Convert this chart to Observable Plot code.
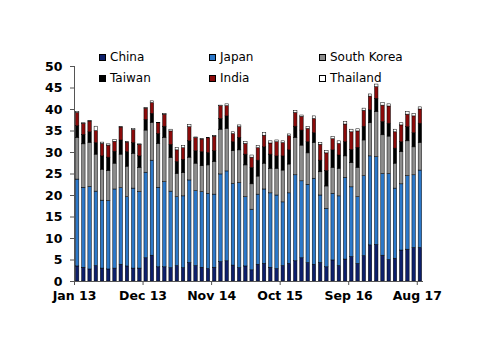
<!DOCTYPE html>
<html>
<head>
<meta charset="utf-8">
<script src="https://cdn.jsdelivr.net/npm/d3@7"></script>
<script src="https://cdn.jsdelivr.net/npm/@observablehq/plot@0.6"></script>
<style>
  html, body { margin: 0; padding: 0; background: #fff; }
  #wrap { position: relative; width: 500px; height: 354px; font-family: "DejaVu Sans", sans-serif; }
  .leg { position: absolute; font-size: 12px; color: #000; line-height: 14px; white-space: nowrap; }
  .leg span.sw { display: inline-block; width: 7px; height: 7px; border: 0.8px solid #000; box-sizing: border-box; margin-right: 4px; vertical-align: 0px; }
</style>
</head>
<body>
<div id="wrap"></div>
<script>
const months = ["Jan 13","Feb 13","Mar 13","Apr 13","May 13","Jun 13","Jul 13","Aug 13","Sep 13","Oct 13","Nov 13","Dec 13",
  "Jan 14","Feb 14","Mar 14","Apr 14","May 14","Jun 14","Jul 14","Aug 14","Sep 14","Oct 14","Nov 14","Dec 14",
  "Jan 15","Feb 15","Mar 15","Apr 15","May 15","Jun 15","Jul 15","Aug 15","Sep 15","Oct 15","Nov 15","Dec 15",
  "Jan 16","Feb 16","Mar 16","Apr 16","May 16","Jun 16","Jul 16","Aug 16","Sep 16","Oct 16","Nov 16","Dec 16",
  "Jan 17","Feb 17","Mar 17","Apr 17","May 17","Jun 17","Jul 17","Aug 17"];
const tickMonths = ["Jan 13","Dec 13","Nov 14","Oct 15","Sep 16","Aug 17"];
const seriesNames = ["China","Japan","South Korea","Taiwan","India","Thailand"];
const seriesColors = ["#0d1f6b","#2c78c9","#8c8c8c","#000000","#8b0a0a","#ffffff"];

const china    = [3.5,3.2,2.8,3.6,3.0,2.8,3.0,3.9,3.5,3.0,3.0,5.4, 6.0,3.3,3.3,3.1,3.6,3.1,4.3,3.6,3.2,2.9,3.2,4.5, 4.7,3.7,3.1,3.5,2.6,3.9,4.1,3.2,2.9,3.6,4.1,4.7, 5.4,4.3,3.9,4.3,3.3,4.9,3.6,5.1,5.7,4.1,5.9,8.4, 8.5,6.0,5.0,5.3,7.2,7.4,7.8,7.8];
const japan    = [20.2,18.6,19.2,17.3,15.8,15.9,18.4,17.8,16.1,18.6,17.8,19.9, 22.1,18.5,19.8,17.8,16.0,16.7,19.2,17.4,17.6,17.5,17.0,20.4, 20.9,19.0,19.8,16.1,14.1,16.3,17.3,17.3,17.1,14.8,16.4,20.0, 17.9,18.2,20.0,15.7,13.6,15.5,16.2,19.0,16.2,15.5,18.6,20.7, 20.4,19.0,20.0,16.3,15.4,17.1,16.9,18.0];
const skorea   = [9.7,10.1,10.2,8.6,7.2,7.0,6.0,7.8,7.1,8.1,5.6,9.8, 8.8,10.2,10.3,7.8,5.4,5.4,5.3,6.4,6.0,6.6,7.6,10.4, 9.9,7.6,7.6,7.4,5.9,4.2,6.0,5.7,6.2,7.4,6.7,8.7, 8.3,7.3,8.3,5.4,5.2,6.0,6.4,5.0,5.6,6.8,8.3,7.7, 10.5,9.0,8.7,5.8,7.5,8.1,6.5,6.4];
const taiwan   = [2.7,2.2,2.5,2.7,3.1,3.1,2.8,3.3,3.4,2.5,2.7,2.5, 2.1,2.3,2.6,3.1,2.8,3.1,3.8,2.9,3.3,2.9,2.5,2.5, 2.9,2.1,2.9,2.5,3.8,3.7,3.8,3.3,2.9,3.3,3.3,2.6, 3.5,2.6,2.3,2.7,3.6,4.1,3.1,3.3,3.1,4.7,3.2,3.0, 3.1,3.1,3.0,3.5,2.3,3.3,3.3,4.5];
const india    = [3.1,2.6,2.5,2.8,2.9,2.8,2.3,3.0,2.2,3.0,2.7,2.6, 2.5,2.5,2.8,3.1,2.7,2.7,3.3,3.1,2.9,3.4,3.4,3.0, 2.4,1.9,2.5,2.5,2.4,2.9,2.7,2.6,3.3,3.1,3.3,3.2, 3.2,3.1,3.3,3.7,4.1,2.6,2.7,4.1,4.1,3.8,3.7,3.2, 2.7,3.8,4.0,3.8,3.9,2.9,3.9,3.3];
const thailand = [0.2,0.1,0.1,1.0,0.3,0.3,0.4,0.1,0.1,0.3,0.1,0.1, 0.4,0.1,0.2,0.4,0.5,0.5,0.5,0.1,0.1,0.1,0.1,0.1, 0.4,0.4,0.4,0.4,0.5,0.5,0.6,0.5,0.4,0.4,0.4,0.4, 0.3,0.4,0.6,0.4,0.5,0.5,0.6,0.6,0.6,0.5,0.5,0.5, 0.6,0.6,0.5,0.6,0.5,0.6,0.6,0.5];
const yTicks = [0,5,10,15,20,25,30,35,40,45,50];

const seriesValues = [china, japan, skorea, taiwan, india, thailand];
const rows = [];
seriesNames.forEach((s, k) => {
  months.forEach((m, i) => rows.push({i, i1: i + 1, month: m, series: s, value: seriesValues[k][i]}));
});
const tickIdx = tickMonths.map(t => months.indexOf(t));

const chart = Plot.plot({
  width: 500,
  height: 354,
  marginLeft: 74,
  marginRight: 77,
  marginTop: 66,
  marginBottom: 73,
  style: {fontFamily: "DejaVu Sans, sans-serif", fontSize: "12px", color: "#000", background: "#fff"},
  x: {type: "linear", domain: [0, months.length], axis: null},
  y: {domain: [0, 50], axis: null},
  color: {domain: seriesNames, range: seriesColors},
  marks: [
    Plot.rectY(rows, {x1: "i", x2: "i1", y: "value", fill: "series", stroke: "#000", strokeWidth: 0.5, insetLeft: 1.4, insetRight: 1.4, order: seriesNames}),
    Plot.axisY({ticks: yTicks, label: null, tickSize: 4, tickPadding: 8, stroke: "#555", fontWeight: "bold", fontSize: 12.5, fill: "#000"}),
    Plot.axisX({ticks: tickIdx, label: null, tickFormat: i => months[i], tickSize: 4, tickPadding: 6, stroke: "#555", fontWeight: "bold", fontSize: 12.5, fill: "#000"}),
    Plot.ruleX([0], {stroke: "#555", strokeWidth: 1}),
    Plot.ruleY([0], {stroke: "#555", strokeWidth: 1})
  ]
});

const wrap = document.getElementById("wrap");
wrap.appendChild(chart);
const legendPos = [[99, 50], [209, 50], [319, 50], [99, 71], [209, 71], [319, 71]];
seriesNames.forEach((s, k) => {
  const d = document.createElement("div");
  d.className = "leg";
  d.style.left = legendPos[k][0] + "px";
  d.style.top = legendPos[k][1] + "px";
  d.innerHTML = `<span class="sw" style="background:${seriesColors[k]}"></span>${s}`;
  wrap.appendChild(d);
});
</script>
</body>
</html>
